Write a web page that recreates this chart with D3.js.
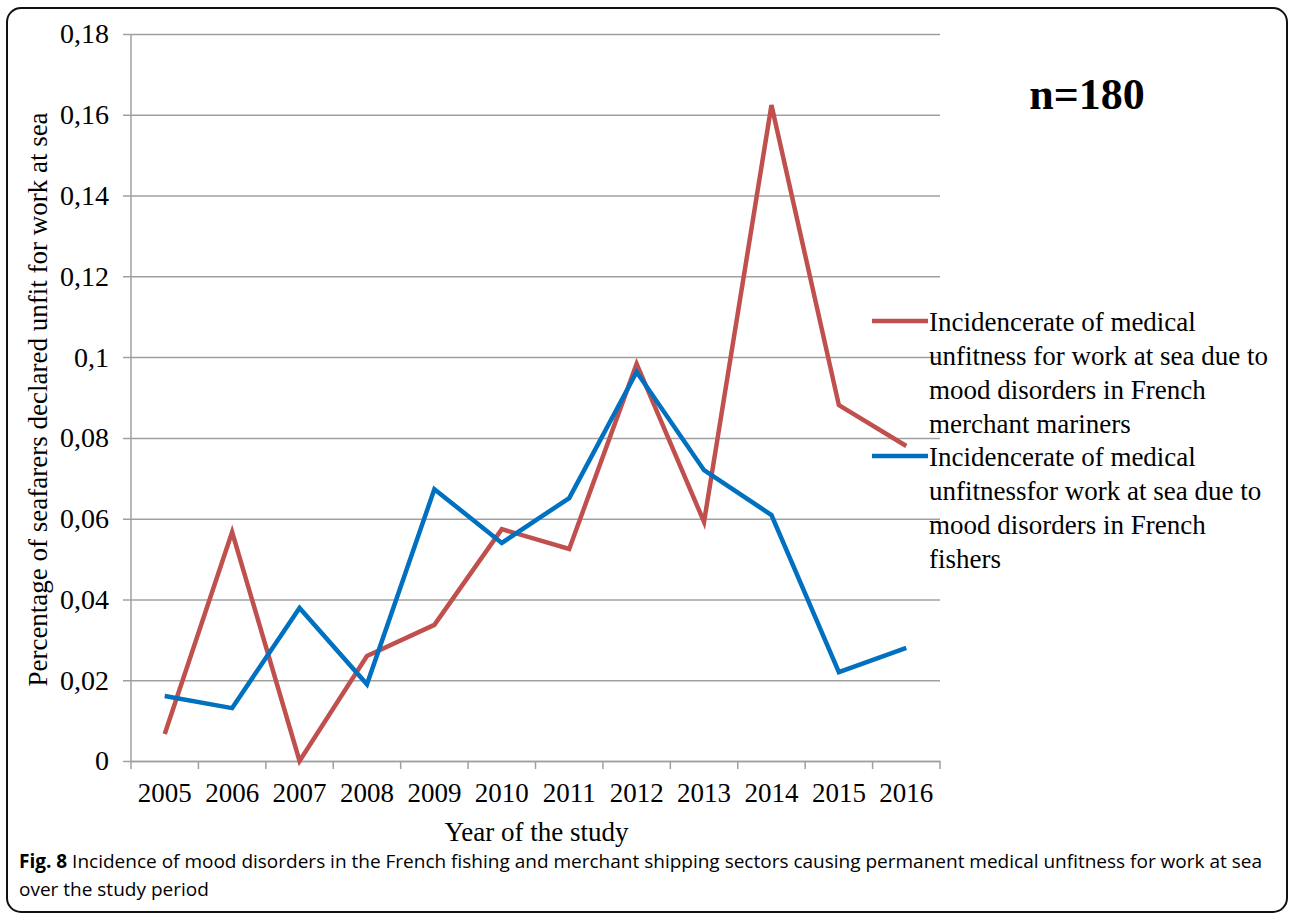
<!DOCTYPE html>
<html>
<head>
<meta charset="utf-8">
<script src="https://cdn.jsdelivr.net/npm/d3@7"></script>
<style>
  body { margin: 0; background: #fff; }
  svg text { font-family: "Liberation Serif", "Times New Roman", serif; fill: #000; }
  .caption { font-family: "Open Sans", "Noto Sans", sans-serif; font-size: 19px; }
</style>
</head>
<body>
<svg id="chart" width="1292" height="919"></svg>
<script>
// Datos
const years = ['2005','2006','2007','2008','2009','2010','2011','2012','2013','2014','2015','2016'];
const merchant = [0.0067, 0.0567, 0.0, 0.026, 0.0337, 0.0574, 0.0525, 0.0983, 0.0592, 0.1624, 0.0881, 0.078];
const fishers = [0.0161, 0.0131, 0.0379, 0.019, 0.0673, 0.054, 0.0651, 0.0963, 0.072, 0.0609, 0.022, 0.028];
const yTicks = [0, 0.02, 0.04, 0.06, 0.08, 0.1, 0.12, 0.14, 0.16, 0.18];
const legendMerchant = ['Incidencerate of medical', 'unfitness for work at sea due to', 'mood disorders in French', 'merchant mariners'];
const legendFishers = ['Incidencerate of medical', 'unfitnessfor work at sea due to', 'mood disorders in French', 'fishers'];

const COLOR_RED = '#C0504D', COLOR_BLUE = '#0070C0', GRID = '#A0A0A0';
const SERIF = '"Liberation Serif", "Times New Roman", serif';

let svg = d3.select('#chart');

// Marco
svg.append('rect')
    .attr('x', 7).attr('y', 8).attr('width', 1280).attr('height', 904)
    .attr('rx', 14).attr('fill', 'none').attr('stroke', '#111').attr('stroke-width', 2);

let margin = {top: 34, left: 131, right: 940, bottom: 761};

let x = d3.scaleBand().domain(years).range([margin.left, margin.right]);
let y = d3.scaleLinear().domain([0, 0.18]).range([margin.bottom, margin.top]);

// Eje Y con rejilla
let yAxis = svg.append('g')
    .attr('transform', 'translate(' + margin.left + ',0)')
    .call(d3.axisLeft(y).tickValues(yTicks).tickSize(8).tickPadding(14)
        .tickFormat(d => d3.format('.2~f')(d).replace('.', ',')));
yAxis.attr('font-family', null);
yAxis.select('.domain').attr('stroke', GRID).attr('stroke-width', 1.5)
    .attr('d', 'M0,' + margin.top + 'V' + margin.bottom);
yAxis.selectAll('.tick line').attr('stroke', GRID).attr('stroke-width', 1.5)
    .attr('x1', -8).attr('x2', margin.right - margin.left);
yAxis.selectAll('.tick text').style('font-size', '28px').style('font-family', SERIF);

// Eje X
let xAxis = svg.append('g')
    .attr('transform', 'translate(0,' + margin.bottom + ')')
    .call(d3.axisBottom(x).tickSize(0).tickPadding(22));
xAxis.attr('font-family', null);
xAxis.select('.domain').attr('stroke', GRID).attr('stroke-width', 1.5);
xAxis.selectAll('.tick text').style('font-size', '27px').style('font-family', SERIF);
// marcas entre categorías
let bounds = years.map(d => x(d)).concat([margin.right]);
svg.append('g').selectAll('line')
    .data(bounds).enter().append('line')
    .attr('x1', d => d).attr('x2', d => d)
    .attr('y1', margin.bottom).attr('y2', margin.bottom + 8)
    .attr('stroke', GRID).attr('stroke-width', 1.5);

// Líneas
let line = d3.line()
    .x((d, i) => x(years[i]) + x.bandwidth() / 2)
    .y(d => y(d));

svg.append('path').datum(merchant)
    .attr('fill', 'none').attr('stroke', COLOR_RED).attr('stroke-width', 4.5)
    .attr('stroke-linejoin', 'miter').attr('d', line);
svg.append('path').datum(fishers)
    .attr('fill', 'none').attr('stroke', COLOR_BLUE).attr('stroke-width', 4.5)
    .attr('stroke-linejoin', 'miter').attr('d', line);

// Títulos de ejes
svg.append('text')
    .attr('transform', 'translate(47,' + ((margin.top + margin.bottom) / 2 + 2) + ') rotate(-90)')
    .attr('text-anchor', 'middle').style('font-size', '27px')
    .text('Percentage of seafarers declared unfit for work at sea');
svg.append('text')
    .attr('x', (margin.left + margin.right) / 2 + 1).attr('y', 841)
    .attr('text-anchor', 'middle').style('font-size', '27px')
    .text('Year of the study');

// n=180
svg.append('text')
    .attr('x', 1087).attr('y', 109).attr('text-anchor', 'middle')
    .style('font-size', '44px').style('font-weight', 'bold')
    .text('n=180');

// Leyenda
function legend(lines, color, top) {
    svg.append('line')
        .attr('x1', 872).attr('x2', 928).attr('y1', top).attr('y2', top)
        .attr('stroke', color).attr('stroke-width', 4.5);
    svg.append('g').selectAll('text')
        .data(lines).enter().append('text')
        .attr('x', 929).attr('y', (d, i) => top + 10 + i * 34)
        .style('font-size', '27px')
        .text(d => d);
}
legend(legendMerchant, COLOR_RED, 321);
legend(legendFishers, COLOR_BLUE, 456);

// Pie de figura
let cap = svg.append('text').attr('class', 'caption').attr('x', 19).attr('y', 868);
cap.append('tspan').style('font-weight', 'bold').text('Fig. 8');
cap.append('tspan').text(' Incidence of mood disorders in the French fishing and merchant shipping sectors causing permanent medical unfitness for work at sea');
svg.append('text').attr('class', 'caption').attr('x', 19).attr('y', 896).text('over the study period');
</script>
</body>
</html>
